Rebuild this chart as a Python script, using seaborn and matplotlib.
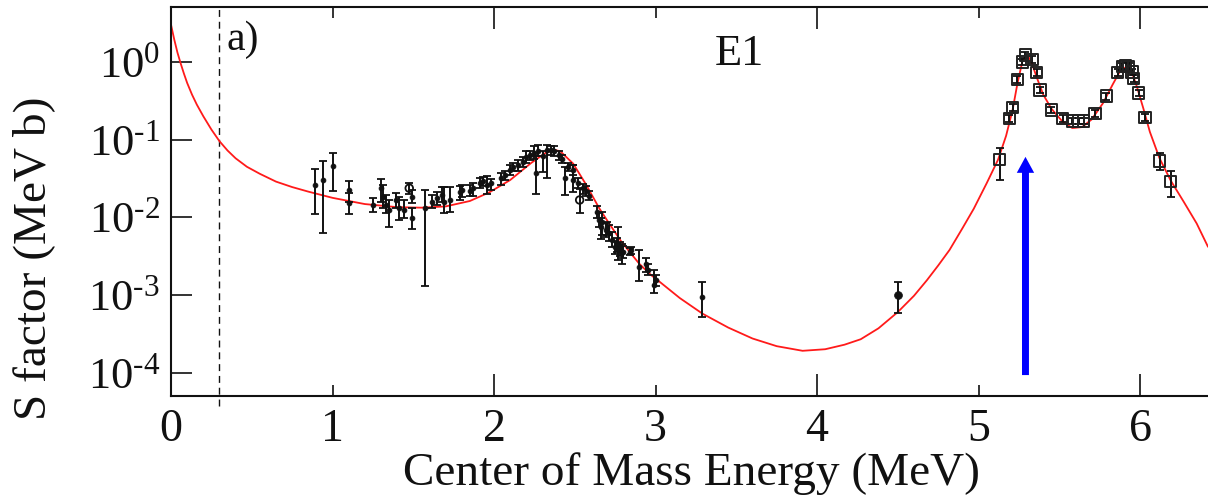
import numpy as np
import pandas as pd
import matplotlib
matplotlib.use("Agg")
import matplotlib.pyplot as plt
import seaborn as sns
from matplotlib.ticker import FixedLocator, FuncFormatter, NullLocator

# ---------------------------------------------------------------- data
# R-matrix E1 fit (MeV, MeV b)
fit_e = [0.00, 0.02, 0.04, 0.06, 0.08, 0.10, 0.13, 0.16, 0.20, 0.25, 0.30, 0.35,
         0.40, 0.47, 0.55, 0.65, 0.75, 0.85, 1.00, 1.20, 1.40, 1.55, 1.70, 1.85,
         1.97, 2.10, 2.23, 2.32, 2.37, 2.41, 2.49, 2.57, 2.65, 2.70, 2.79, 2.90,
         2.97, 3.03, 3.15, 3.29, 3.45, 3.60, 3.75, 3.91, 4.05, 4.17, 4.27, 4.38,
         4.50, 4.60, 4.68, 4.75, 4.82, 4.90, 4.97, 5.05, 5.12, 5.17, 5.21, 5.24,
         5.27, 5.29, 5.31, 5.33, 5.36, 5.40, 5.45, 5.52, 5.58, 5.64, 5.70, 5.77,
         5.83, 5.88, 5.92, 5.95, 5.98, 6.02, 6.06, 6.12, 6.19, 6.27, 6.35, 6.42]
fit_s = [3.02, 1.95, 1.32, 0.955, 0.708, 0.537, 0.380, 0.282, 0.200, 0.135, 0.0955, 0.0724,
         0.0575, 0.0447, 0.0363, 0.0288, 0.0245, 0.0214, 0.0178, 0.0148, 0.0135, 0.0133, 0.0138, 0.0162,
         0.0209, 0.0302, 0.0501, 0.0676, 0.0741, 0.0708, 0.0490, 0.0263, 0.0132, 0.00912, 0.00479, 0.00251,
         0.00182, 0.00145, 0.000912, 0.000575, 0.000380, 0.000275, 0.000219, 0.000191, 0.000200, 0.000229, 0.000269, 0.000372,
         0.000603, 0.000977, 0.00155, 0.00240, 0.00380, 0.00724, 0.0129, 0.0275, 0.0550, 0.112, 0.240, 0.525,
         1.00, 1.20, 1.15, 0.955, 0.631, 0.380, 0.251, 0.170, 0.141, 0.145, 0.182, 0.295,
         0.513, 0.794, 0.871, 0.724, 0.479, 0.251, 0.126, 0.0575, 0.0295, 0.0158, 0.00832, 0.00417]

# low-energy measurements (filled dots): energy, S, lower and upper bar ends
low_e = [0.89, 0.94, 1.00, 1.10, 1.10, 1.25, 1.30, 1.31, 1.33, 1.35, 1.39, 1.41, 1.44,
         1.495, 1.49, 1.57, 1.615, 1.645, 1.68, 1.69, 1.73, 1.79, 1.80, 1.85, 1.87,
         1.91, 1.93, 1.955, 1.98, 2.04, 2.07, 2.10, 2.12, 2.15, 2.18, 2.20, 2.22,
         2.25, 2.26, 2.27, 2.30, 2.33, 2.35, 2.37, 2.40, 2.42, 2.44, 2.46, 2.49,
         2.49, 2.52, 2.55, 2.57, 2.59, 2.64, 2.65, 2.66, 2.67, 2.69, 2.70, 2.71,
         2.73, 2.75, 2.76, 2.77, 2.78, 2.79, 2.80, 2.84, 2.85, 2.90, 2.94, 2.95,
         2.99, 3.00, 3.29]
low_s = [0.0261, 0.0303, 0.0459, 0.0225, 0.0152, 0.0145, 0.0237, 0.0185, 0.0145, 0.0125, 0.0167, 0.0131, 0.0125,
         0.0185, 0.0097, 0.0131, 0.0159, 0.0176, 0.0194, 0.0159, 0.0167, 0.0214, 0.0225, 0.0217, 0.0237,
         0.0275, 0.0290, 0.0261, 0.0275, 0.0319, 0.0351, 0.0407, 0.0450, 0.0472, 0.0521, 0.0594, 0.0636,
         0.0681, 0.0370, 0.0720, 0.0610, 0.0737, 0.0737, 0.0720, 0.0640, 0.0570, 0.0319, 0.0440, 0.0410,
         0.0303, 0.0280, 0.0237, 0.0220, 0.0190, 0.0118, 0.0093, 0.0076, 0.0088, 0.0069, 0.0072, 0.0063,
         0.0051, 0.0042, 0.0045, 0.0042, 0.0040, 0.0036, 0.0036, 0.0036, 0.0038, 0.0023, 0.0025, 0.0021,
         0.00135, 0.00155, 0.00095]
low_smin = [0.0111, 0.00635, 0.0221, 0.0159, 0.0111, 0.0118, 0.0159, 0.0131, 0.0113, 0.0076, 0.0131, 0.0093, 0.0097,
            0.0152, 0.0070, 0.00131, 0.0131, 0.0145, 0.0159, 0.0113, 0.0118, 0.0167, 0.0185, 0.0190, 0.0190,
            0.0237, 0.0250, 0.0200, 0.0225, 0.0261, 0.0300, 0.0351, 0.0390, 0.0400, 0.0450, 0.0500, 0.0550,
            0.0570, 0.0200, 0.0620, 0.0380, 0.0320, 0.0640, 0.0620, 0.0550, 0.0500, 0.0194, 0.0390, 0.0350,
            0.0210, 0.0240, 0.0200, 0.0190, 0.0165, 0.0097, 0.0076, 0.0052, 0.0059, 0.0055, 0.0060, 0.0050,
            0.0042, 0.0034, 0.0036, 0.0028, 0.0032, 0.0025, 0.0030, 0.0033, 0.0034, 0.0015, 0.0020, 0.0018,
            0.00105, 0.0013, 0.00052]
low_smax = [0.0420, 0.0537, 0.0681, 0.0297, 0.0204, 0.0176, 0.0309, 0.0261, 0.0194, 0.0167, 0.0208, 0.0185, 0.0167,
            0.0225, 0.0131, 0.0225, 0.0194, 0.0214, 0.0248, 0.0248, 0.0248, 0.0254, 0.0261, 0.0261, 0.0280,
            0.0320, 0.0330, 0.0340, 0.0310, 0.0370, 0.0400, 0.0470, 0.0500, 0.0540, 0.0600, 0.0720, 0.0720,
            0.0820, 0.0620, 0.0850, 0.0720, 0.0860, 0.0820, 0.0820, 0.0720, 0.0640, 0.0450, 0.0500, 0.0470,
            0.0470, 0.0320, 0.0270, 0.0250, 0.0220, 0.0140, 0.0113, 0.0097, 0.0118, 0.0085, 0.0088, 0.0080,
            0.0065, 0.0050, 0.0054, 0.0076, 0.0048, 0.0045, 0.0043, 0.0040, 0.0041, 0.0038, 0.0030, 0.0025,
            0.0021, 0.0018, 0.00145]

# open-circle measurements
circ_e = [1.475, 2.53]
circ_s = [0.0237, 0.0167]
circ_smin = [0.0200, 0.0113]
circ_smax = [0.0280, 0.0230]

# single high-energy point
hi_e = [4.50]
hi_s = [0.00100]
hi_smin = [0.00059]
hi_smax = [0.00145]

# resonance region (open squares)
res_e = [5.13, 5.19, 5.21, 5.24, 5.27, 5.29, 5.33, 5.36, 5.38, 5.45, 5.52, 5.58, 5.62,
         5.65, 5.72, 5.79, 5.86, 5.89, 5.91, 5.93, 5.95, 5.96, 5.99, 6.03, 6.12, 6.19]
res_s = [0.055, 0.186, 0.257, 0.589, 1.00, 1.23, 1.07, 0.724, 0.437, 0.240, 0.186, 0.174, 0.174,
         0.174, 0.219, 0.363, 0.724, 0.871, 0.891, 0.871, 0.741, 0.617, 0.398, 0.191, 0.053, 0.029]
res_smin = [0.030, 0.168, 0.232, 0.532, 0.905, 1.11, 0.97, 0.655, 0.395, 0.217, 0.168, 0.157, 0.157,
            0.157, 0.198, 0.328, 0.655, 0.788, 0.806, 0.788, 0.670, 0.558, 0.360, 0.173, 0.041, 0.0185]
res_smax = [0.078, 0.205, 0.284, 0.651, 1.10, 1.36, 1.18, 0.800, 0.483, 0.265, 0.205, 0.192, 0.192,
            0.192, 0.242, 0.401, 0.800, 0.962, 0.985, 0.962, 0.819, 0.682, 0.440, 0.211, 0.067, 0.040]

# threshold marker and resonance arrow
threshold_e = 0.30
arrow_e = 5.29
arrow_from, arrow_to = 9.3e-5, 0.06

x_major = [0, 2, 4, 6]
x_minor = [1, 3, 5]
y_ticks = [1e-4, 1e-3, 1e-2, 1e-1, 1e0]

# ---------------------------------------------------------------- style
sns.set_theme(style="ticks")
plt.rcParams.update({
    "font.family": ["Liberation Serif", "DejaVu Serif"],
    "mathtext.fontset": "custom",
    "mathtext.rm": "Liberation Serif",
    "mathtext.it": "Liberation Serif:italic",
    "mathtext.bf": "Liberation Serif:bold",
    "axes.linewidth": 1.5,
    "axes.edgecolor": "#111111",
})

fig = plt.figure(figsize=(12.08, 4.99), dpi=100)
ax = fig.add_axes([171 / 1208, 1 - 396 / 499, 1037 / 1208, 389 / 499])

# fit curve
fit_df = pd.DataFrame({"E": fit_e, "S": fit_s})
sns.lineplot(data=fit_df, x="E", y="S", ax=ax, color="#ff1a1a", lw=1.3,
             sort=False, zorder=2)

ink = "#111111"


def bars(e, s, smin, smax):
    s = np.asarray(s)
    yerr = np.vstack([s - np.asarray(smin), np.asarray(smax) - s])
    ax.errorbar(e, s, yerr=yerr, fmt="none", ecolor=ink, elinewidth=1.4,
                capsize=2.8, capthick=1.3, zorder=3)


bars(low_e, low_s, low_smin, low_smax)
bars(circ_e, circ_s, circ_smin, circ_smax)
bars(hi_e, hi_s, hi_smin, hi_smax)
bars(res_e, res_s, res_smin, res_smax)

sns.scatterplot(x=low_e, y=low_s, ax=ax, color=ink, s=12, marker="o",
                edgecolor=ink, linewidth=0.6, zorder=4)
sns.scatterplot(x=circ_e, y=circ_s, ax=ax, s=30, marker="o", facecolor="none",
                edgecolor=ink, linewidth=1.3, zorder=4)
sns.scatterplot(x=hi_e, y=hi_s, ax=ax, color=ink, s=32, marker="o",
                edgecolor=ink, linewidth=0.5, zorder=4)
sns.scatterplot(x=res_e, y=res_s, ax=ax, s=66, marker="s", facecolor="none",
                edgecolor="#222222", linewidth=1.4, zorder=4)

# threshold line (runs a little past the bottom axis)
ax.axvline(threshold_e, ymin=-0.025, ymax=1, color=ink, lw=1.0,
           ls=(0, (5, 3.5)), clip_on=False, zorder=1)

# resonance arrow
ax.annotate("", xy=(arrow_e, arrow_to), xytext=(arrow_e, arrow_from),
            arrowprops=dict(arrowstyle="simple,head_width=1.25,head_length=1.15,tail_width=0.5",
                            color="#0000ff", mutation_scale=10, shrinkA=0, shrinkB=0, lw=0),
            zorder=5)

# ---------------------------------------------------------------- axes
ax.set_yscale("log")
ax.set_xlim(0, 6.42)
ax.set_ylim(5e-5, 5.1)


def decade_label(v, _pos):
    exp = int(round(np.log10(v)))
    return r"$10^{\text{%d}}$" % exp


ax.xaxis.set_major_locator(FixedLocator(x_major))
ax.xaxis.set_minor_locator(FixedLocator(x_minor))
ax.set_xticklabels([str(v) for v in x_major])
ax.set_xticklabels([str(v) for v in x_minor], minor=True)
ax.yaxis.set_major_locator(FixedLocator(y_ticks))
ax.yaxis.set_minor_locator(NullLocator())
ax.yaxis.set_major_formatter(FuncFormatter(decade_label))

ax.tick_params(axis="x", which="both", direction="in", top=True, bottom=True,
               labelsize=33, pad=9, colors=ink, width=1.2)
ax.tick_params(axis="x", which="major", length=16)
ax.tick_params(axis="x", which="minor", length=8)
ax.tick_params(axis="y", which="major", direction="in", left=True, right=False,
               length=15, width=1.2, labelsize=32, pad=8, colors=ink)

ax.spines["right"].set_visible(False)
for side in ("left", "bottom", "top"):
    ax.spines[side].set_linewidth(1.5)

ax.set_xlabel("Center of Mass Energy (MeV)", fontsize=34, color=ink)
ax.set_ylabel("S factor (MeV b)", fontsize=34, color=ink)
ax.xaxis.set_label_coords(0.502, -0.145)
ax.yaxis.set_label_coords(-0.112, 0.355)

ax.text(0.054, 0.965, "a)", transform=ax.transAxes, fontsize=30, color=ink,
        ha="left", va="top")
ax.text(0.548, 0.93, "E1", transform=ax.transAxes, fontsize=32, color=ink,
        ha="center", va="top")

fig.savefig("out.png", dpi=100)
